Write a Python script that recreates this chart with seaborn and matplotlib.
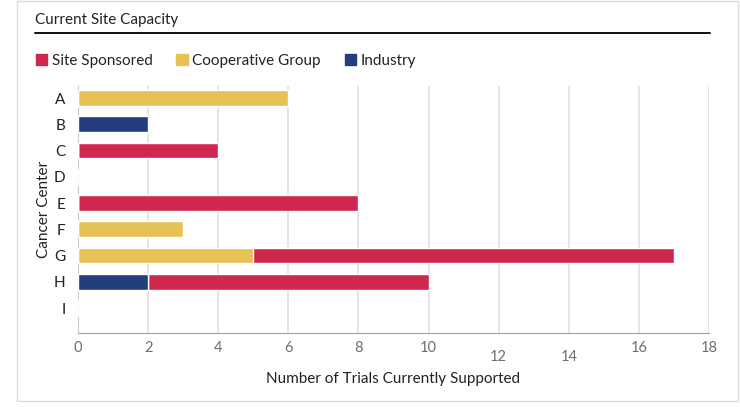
import matplotlib
matplotlib.use("Agg")
import matplotlib.pyplot as plt
import matplotlib.patches as mpatches
from matplotlib.lines import Line2D
import pandas as pd
import seaborn as sns

centers = ["A", "B", "C", "D", "E", "F", "G", "H", "I"]
industry = [0, 2, 0, 0, 0, 0, 0, 2, 0]
cooperative = [6, 0, 0, 0, 0, 3, 5, 0, 0]
site_sponsored = [0, 0, 4, 0, 8, 0, 12, 8, 0]

c_site = "#D0274F"
c_coop = "#E6C156"
c_ind = "#233E7F"

df = pd.DataFrame({"center": centers, "ind": industry, "coop": cooperative, "site": site_sponsored})
df["lvl1"] = df["ind"]
df["lvl2"] = df["ind"] + df["coop"]
df["lvl3"] = df["lvl2"] + df["site"]

sns.set_style("white")
plt.rcParams["font.family"] = ["Lato", "DejaVu Sans"]

fig = plt.figure(figsize=(7.4, 4.07), dpi=100)
ax = fig.add_axes([78 / 740, 1 - 333 / 407, (709 - 78) / 740, (333 - 86) / 407])

# stacked bars drawn back to front
for col, colr in [("lvl3", c_site), ("lvl2", c_coop), ("lvl1", c_ind)]:
    sns.barplot(data=df, x=col, y="center", orient="h", color=colr, width=0.6,
                saturation=1, ax=ax, zorder=3)

ax.set_xlim(0, 18)
ax.set_ylim(8.95, -0.46)
ax.set_xticks(range(0, 19, 2))
ax.grid(axis="x", color="#E2E2E2", linewidth=1.3, zorder=0)
ax.grid(axis="y", visible=False)
for s in ["top", "right"]:
    ax.spines[s].set_visible(False)
ax.spines["left"].set_color("#CCCCCC")
ax.spines["bottom"].set_color("#A0A0A0")
ax.tick_params(axis="x", colors="#A0A0A0", length=4, width=0.8, labelsize=10.5,
               labelcolor="#6E6E6E", pad=2)
ax.tick_params(axis="y", length=0, labelsize=11, labelcolor="#222222", pad=9)
ax.set_xlabel("Number of Trials Currently Supported", fontsize=11, color="#222222", labelpad=6)
ax.set_ylabel("Cancer Center", fontsize=11, color="#222222", labelpad=2)

# 12 and 14 labels sit lower in the original
ticks = ax.xaxis.get_major_ticks()
for i in (6, 7):
    ticks[i].set_pad(8)

# card border, title and rule
fig.patches.append(mpatches.Rectangle((17 / 740, 1 - 401 / 407), 721 / 740, 400 / 407,
                                      transform=fig.transFigure, fill=False,
                                      edgecolor="#DDDDDD", linewidth=1))
fig.text(35 / 740, 1 - 20 / 407, "Current Site Capacity", fontsize=11, color="#222222",
         va="center", ha="left")
fig.lines.append(Line2D([35 / 740, 710 / 740], [1 - 33 / 407, 1 - 33 / 407],
                        transform=fig.transFigure, color="#111111", linewidth=1.4))

handles = [mpatches.Patch(color=c_site, label="Site Sponsored"),
           mpatches.Patch(color=c_coop, label="Cooperative Group"),
           mpatches.Patch(color=c_ind, label="Industry")]
fig.legend(handles=handles, loc="center left", bbox_to_anchor=(22 / 740, 1 - 61 / 407),
           ncol=3, frameon=False, fontsize=11, handlelength=0.75, handleheight=0.75,
           handletextpad=0.3, columnspacing=1.55, labelcolor="#222222")

fig.savefig("out.png", dpi=100)
